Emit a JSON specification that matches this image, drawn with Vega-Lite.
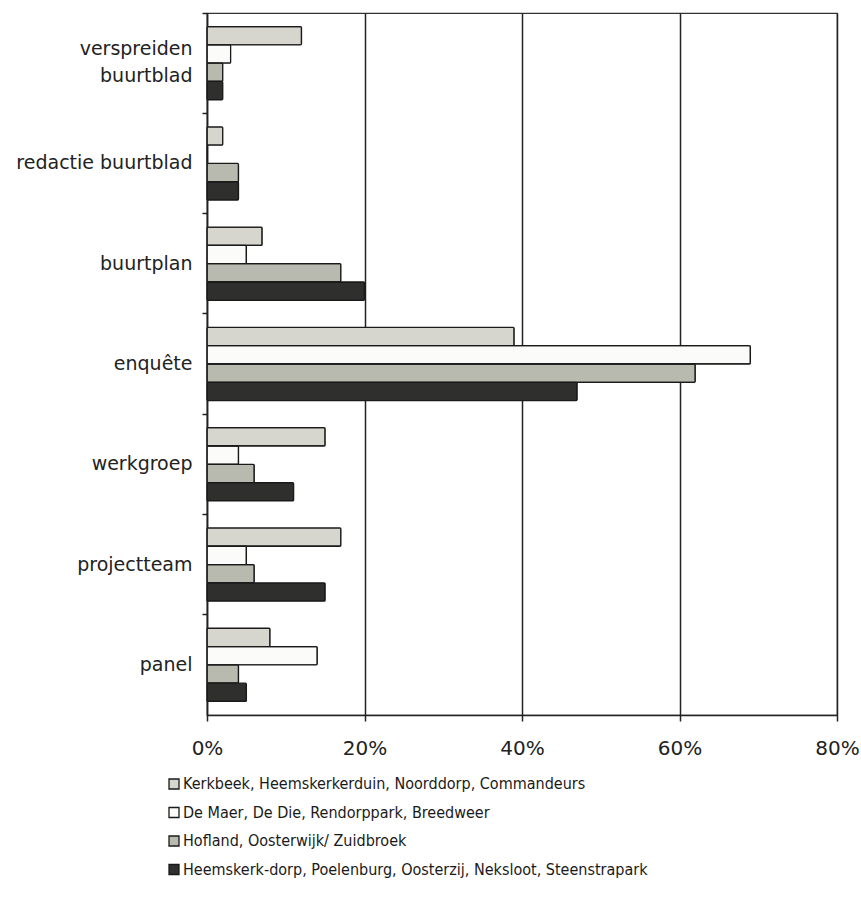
{
  "$schema": "https://vega.github.io/schema/vega-lite/v6.json",
  "width": 630,
  "height": 702,
  "autosize": {"type": "none"},
  "padding": {"left": 207, "top": 13, "right": 24, "bottom": 205},
  "background": "white",
  "config": {
    "font": "DejaVu Sans",
    "view": {"stroke": "#333", "strokeWidth": 1.2}
  },
  "data": {
    "values": [
      {"cat": "verspreiden buurtblad", "series": "Kerkbeek, Heemskerkerduin, Noorddorp, Commandeurs", "value": 12},
      {"cat": "verspreiden buurtblad", "series": "De Maer, De Die, Rendorppark, Breedweer", "value": 3},
      {"cat": "verspreiden buurtblad", "series": "Hofland, Oosterwijk/ Zuidbroek", "value": 2},
      {"cat": "verspreiden buurtblad", "series": "Heemskerk-dorp, Poelenburg, Oosterzij, Neksloot, Steenstrapark", "value": 2},
      {"cat": "redactie buurtblad", "series": "Kerkbeek, Heemskerkerduin, Noorddorp, Commandeurs", "value": 2},
      {"cat": "redactie buurtblad", "series": "De Maer, De Die, Rendorppark, Breedweer", "value": 0},
      {"cat": "redactie buurtblad", "series": "Hofland, Oosterwijk/ Zuidbroek", "value": 4},
      {"cat": "redactie buurtblad", "series": "Heemskerk-dorp, Poelenburg, Oosterzij, Neksloot, Steenstrapark", "value": 4},
      {"cat": "buurtplan", "series": "Kerkbeek, Heemskerkerduin, Noorddorp, Commandeurs", "value": 7},
      {"cat": "buurtplan", "series": "De Maer, De Die, Rendorppark, Breedweer", "value": 5},
      {"cat": "buurtplan", "series": "Hofland, Oosterwijk/ Zuidbroek", "value": 17},
      {"cat": "buurtplan", "series": "Heemskerk-dorp, Poelenburg, Oosterzij, Neksloot, Steenstrapark", "value": 20},
      {"cat": "enquête", "series": "Kerkbeek, Heemskerkerduin, Noorddorp, Commandeurs", "value": 39},
      {"cat": "enquête", "series": "De Maer, De Die, Rendorppark, Breedweer", "value": 69},
      {"cat": "enquête", "series": "Hofland, Oosterwijk/ Zuidbroek", "value": 62},
      {"cat": "enquête", "series": "Heemskerk-dorp, Poelenburg, Oosterzij, Neksloot, Steenstrapark", "value": 47},
      {"cat": "werkgroep", "series": "Kerkbeek, Heemskerkerduin, Noorddorp, Commandeurs", "value": 15},
      {"cat": "werkgroep", "series": "De Maer, De Die, Rendorppark, Breedweer", "value": 4},
      {"cat": "werkgroep", "series": "Hofland, Oosterwijk/ Zuidbroek", "value": 6},
      {"cat": "werkgroep", "series": "Heemskerk-dorp, Poelenburg, Oosterzij, Neksloot, Steenstrapark", "value": 11},
      {"cat": "projectteam", "series": "Kerkbeek, Heemskerkerduin, Noorddorp, Commandeurs", "value": 17},
      {"cat": "projectteam", "series": "De Maer, De Die, Rendorppark, Breedweer", "value": 5},
      {"cat": "projectteam", "series": "Hofland, Oosterwijk/ Zuidbroek", "value": 6},
      {"cat": "projectteam", "series": "Heemskerk-dorp, Poelenburg, Oosterzij, Neksloot, Steenstrapark", "value": 15},
      {"cat": "panel", "series": "Kerkbeek, Heemskerkerduin, Noorddorp, Commandeurs", "value": 8},
      {"cat": "panel", "series": "De Maer, De Die, Rendorppark, Breedweer", "value": 14},
      {"cat": "panel", "series": "Hofland, Oosterwijk/ Zuidbroek", "value": 4},
      {"cat": "panel", "series": "Heemskerk-dorp, Poelenburg, Oosterzij, Neksloot, Steenstrapark", "value": 5}
    ]
  },
  "mark": {"type": "bar", "stroke": "#1a1a1a", "strokeWidth": 1.3, "cornerRadius": 1},
  "encoding": {
    "y": {
      "field": "cat",
      "type": "nominal",
      "sort": ["verspreiden buurtblad", "redactie buurtblad", "buurtplan", "enquête", "werkgroep", "projectteam", "panel"],
      "scale": {"paddingInner": 0, "paddingOuter": 0},
      "axis": {
        "title": null,
        "bandPosition": 0,
        "domainColor": "#222",
        "domainWidth": 1.5,
        "tickColor": "#222",
        "tickWidth": 1.5,
        "tickSize": 5,
        "labelPadding": 10,
        "labelFontSize": 19,
        "labelColor": "#222",
        "labelExpr": "datum.label == 'verspreiden buurtblad' ? ['verspreiden', 'buurtblad'] : datum.label",
        "labelLineHeight": 27,
        "labelOffset": {"condition": {"test": "datum.value == 'verspreiden buurtblad'", "value": -14}, "value": 0},
        "labelLimit": 300,
        "grid": false
      }
    },
    "yOffset": {
      "field": "series",
      "type": "nominal",
      "sort": ["Kerkbeek, Heemskerkerduin, Noorddorp, Commandeurs", "De Maer, De Die, Rendorppark, Breedweer", "Hofland, Oosterwijk/ Zuidbroek", "Heemskerk-dorp, Poelenburg, Oosterzij, Neksloot, Steenstrapark"],
      "scale": {"paddingInner": 0, "paddingOuter": 0.74}
    },
    "x": {
      "field": "value",
      "type": "quantitative",
      "scale": {"domain": [0, 80], "nice": false},
      "axis": {
        "title": null,
        "values": [0, 20, 40, 60, 80],
        "labelExpr": "datum.value + '%'",
        "grid": true,
        "gridColor": "#222",
        "gridWidth": 1.5,
        "gridOpacity": 1,
        "domainColor": "#222",
        "domainWidth": 1.5,
        "tickColor": "#222",
        "tickWidth": 1.5,
        "tickSize": 6,
        "labelPadding": 17,
        "labelFontSize": 20,
        "labelColor": "#222",
        "labelFlush": false
      }
    },
    "color": {
      "field": "series",
      "type": "nominal",
      "scale": {
        "domain": ["Kerkbeek, Heemskerkerduin, Noorddorp, Commandeurs", "De Maer, De Die, Rendorppark, Breedweer", "Hofland, Oosterwijk/ Zuidbroek", "Heemskerk-dorp, Poelenburg, Oosterzij, Neksloot, Steenstrapark"],
        "range": ["#d6d6cf", "#fbfbfa", "#b8baaf", "#2f302e"]
      },
      "legend": {
        "title": null,
        "orient": "none",
        "legendX": -41,
        "legendY": 763,
        "symbolType": "square",
        "symbolSize": 100,
        "symbolStrokeColor": "#1a1a1a",
        "symbolStrokeWidth": 1.3,
        "labelFont": "DejaVu Sans Condensed, Liberation Sans",
        "labelFontSize": 16,
        "labelColor": "#1a1a1a",
        "labelLimit": 800,
        "labelOffset": 1,
        "rowPadding": 12.5,
        "symbolOpacity": 1
      }
    }
  }
}
